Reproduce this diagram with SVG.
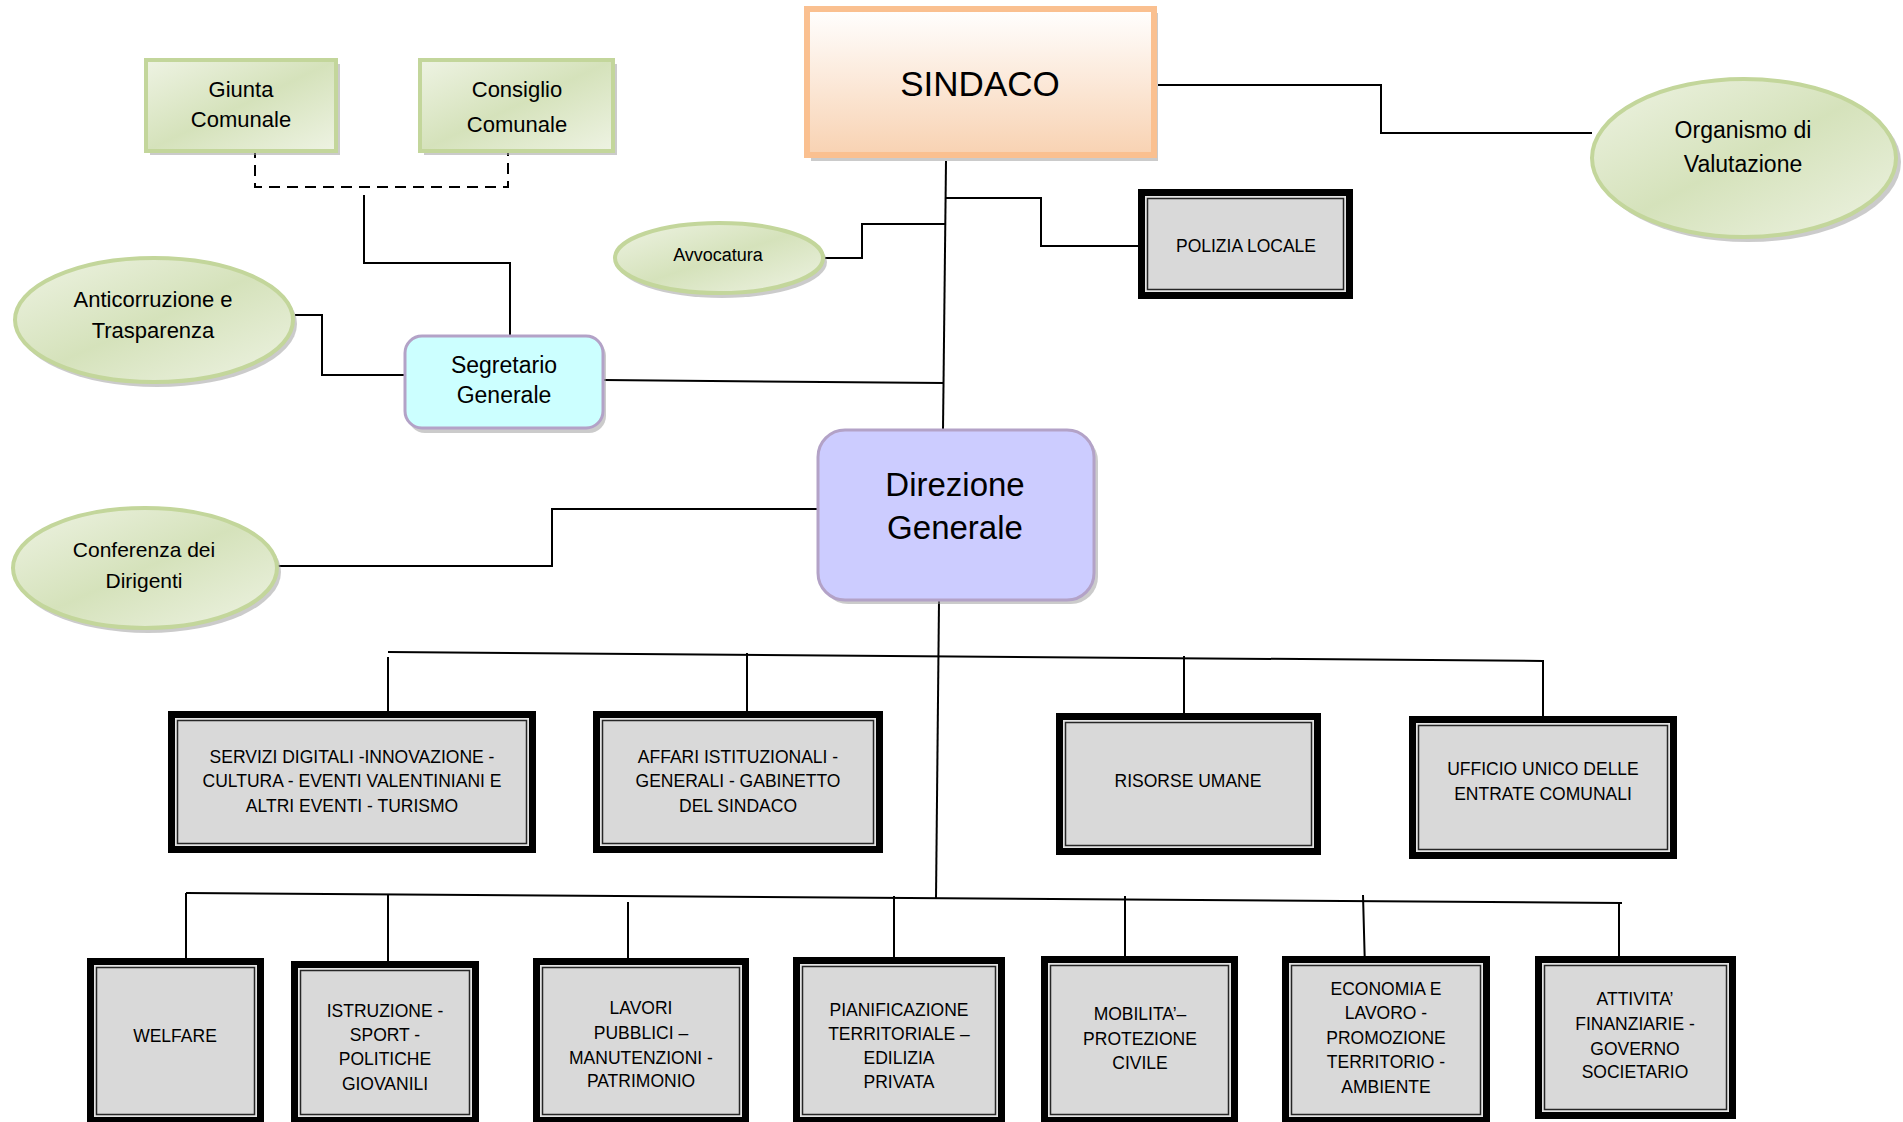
<svg xmlns="http://www.w3.org/2000/svg" width="1903" height="1122" viewBox="0 0 1903 1122">
<defs>
<linearGradient id="gGreen" x1="0" y1="0" x2="1" y2="1">
<stop offset="0" stop-color="#EEF3E3"/>
<stop offset="0.5" stop-color="#D5E2BB"/>
<stop offset="1" stop-color="#EEF3E3"/>
</linearGradient>
<linearGradient id="gOrange" x1="0" y1="0" x2="0" y2="1">
<stop offset="0" stop-color="#FFFFFF"/>
<stop offset="1" stop-color="#F8D2B2"/>
</linearGradient>
<style>
.sh{fill:#A0A0A0;opacity:.55}
.gr{fill:url(#gGreen);stroke:#C3D69B;stroke-width:4}
.or{fill:url(#gOrange);stroke:#FAC090;stroke-width:6}
.cy{fill:#CCFFFF;stroke:#B3A2C7;stroke-width:3}
.pu{fill:#CCCCFF;stroke:#B3A2C7;stroke-width:3}
.bo{fill:#000}
.bg{fill:#E4E4E4}
.bi{fill:#D9D9D9;stroke:#262626;stroke-width:1.5}
.t{font-family:"Liberation Sans",Arial,sans-serif;fill:#000;text-anchor:middle}
.bt{font-size:17.5px}
.ln{fill:none;stroke:#000;stroke-width:2}
.ds{stroke-dasharray:11 7}
</style>
</defs>

<g id="connectors">
<path class="ln ds" d="M255 147 V187 H508 V153"/>
<path class="ln" d="M364 195 V263 H510 V335"/>
<path class="ln" d="M295 315 H322 V375 H405"/>
<path class="ln" d="M604 380 L944 383"/>
<path class="ln" d="M825 258 H862 V224 H945"/>
<path class="ln" d="M946 161 L943 430"/>
<path class="ln" d="M945 198 H1041 V246 H1138"/>
<path class="ln" d="M1158 85 H1381 V133 H1592"/>
<path class="ln" d="M278 566 H552 V509 H818"/>
<path class="ln" d="M939 601 L936 899"/>
<path class="ln" d="M388 652 L1543 661"/>
<path class="ln" d="M388 657 V720 M747 653 V718 M1184 656 V720 M1543 660 V723"/>
<path class="ln" d="M186 893 L1622 903"/>
<path class="ln" d="M186 893 V964 M388 895 V961 M628 902 V966 M894 896 V957 M1125 896 V956 M1363 895 L1365 969 M1619 902 V965"/>
</g>

<g id="giunta">
<rect class="sh" x="150" y="64" width="190" height="91"/>
<rect class="gr" x="146" y="60" width="190" height="91"/>
<text class="t" x="241" y="97" font-size="22">Giunta</text>
<text class="t" x="241" y="127" font-size="22">Comunale</text>
</g>
<g id="consiglio">
<rect class="sh" x="424" y="64" width="193" height="91"/>
<rect class="gr" x="420" y="60" width="193" height="91"/>
<text class="t" x="517" y="97" font-size="22">Consiglio</text>
<text class="t" x="517" y="132" font-size="22">Comunale</text>
</g>
<g id="sindaco">
<rect class="sh" x="811" y="13" width="347" height="148"/>
<rect class="or" x="807" y="9" width="347" height="146"/>
<text class="t" x="980" y="96" font-size="35">SINDACO</text>
</g>
<g id="organismo">
<ellipse class="sh" cx="1748" cy="162" rx="153" ry="80"/>
<ellipse class="gr" cx="1744" cy="158" rx="152" ry="79"/>
<text class="t" x="1743" y="138" font-size="23">Organismo di</text>
<text class="t" x="1743" y="172" font-size="23">Valutazione</text>
</g>
<g id="avvocatura">
<ellipse class="sh" cx="722" cy="262" rx="105" ry="36"/>
<ellipse class="gr" cx="719" cy="258" rx="104" ry="35"/>
<text class="t" x="718" y="261" font-size="18">Avvocatura</text>
</g>
<g id="polizia">
<rect class="bo" x="1138" y="189" width="215" height="110"/>
<rect class="bg" x="1145" y="196" width="201" height="96"/>
<rect class="bi" x="1147.5" y="198.5" width="196" height="91"/>
<text class="t bt" x="1246" y="252">POLIZIA LOCALE</text>
</g>
<g id="anticorruzione">
<ellipse class="sh" cx="157" cy="324" rx="140" ry="63"/>
<ellipse class="gr" cx="154" cy="320" rx="139" ry="62"/>
<text class="t" x="153" y="307" font-size="22">Anticorruzione e</text>
<text class="t" x="153" y="338" font-size="22">Trasparenza</text>
</g>
<g id="segretario">
<rect class="sh" x="408" y="339" width="198" height="94" rx="17"/>
<rect class="cy" x="405" y="336" width="198" height="92" rx="17"/>
<text class="t" x="504" y="373" font-size="23">Segretario</text>
<text class="t" x="504" y="403" font-size="23">Generale</text>
</g>
<g id="direzione">
<rect class="sh" x="821" y="434" width="277" height="170" rx="27"/>
<rect class="pu" x="818" y="430" width="276" height="170" rx="27"/>
<text class="t" x="955" y="496" font-size="33">Direzione</text>
<text class="t" x="955" y="539" font-size="33">Generale</text>
</g>
<g id="conferenza">
<ellipse class="sh" cx="148" cy="572" rx="133" ry="61"/>
<ellipse class="gr" cx="145" cy="568" rx="132" ry="60"/>
<text class="t" x="144" y="557" font-size="21">Conferenza dei</text>
<text class="t" x="144" y="588" font-size="21">Dirigenti</text>
</g>

<g id="servizi">
<rect class="bo" x="168" y="711" width="368" height="142"/>
<rect class="bg" x="175" y="718" width="354" height="128"/>
<rect class="bi" x="177.5" y="720.5" width="349" height="123"/>
<text class="t bt" x="352" y="763">SERVIZI DIGITALI -INNOVAZIONE -</text>
<text class="t bt" x="352" y="787">CULTURA - EVENTI VALENTINIANI E</text>
<text class="t bt" x="352" y="812">ALTRI EVENTI - TURISMO</text>
</g>
<g id="affari">
<rect class="bo" x="593" y="711" width="290" height="142"/>
<rect class="bg" x="600" y="718" width="276" height="128"/>
<rect class="bi" x="602.5" y="720.5" width="271" height="123"/>
<text class="t bt" x="738" y="763">AFFARI ISTITUZIONALI -</text>
<text class="t bt" x="738" y="787">GENERALI - GABINETTO</text>
<text class="t bt" x="738" y="812">DEL SINDACO</text>
</g>
<g id="risorse">
<rect class="bo" x="1056" y="713" width="265" height="142"/>
<rect class="bg" x="1063" y="720" width="251" height="128"/>
<rect class="bi" x="1065.5" y="722.5" width="246" height="123"/>
<text class="t bt" x="1188" y="787">RISORSE UMANE</text>
</g>
<g id="ufficio">
<rect class="bo" x="1409" y="716" width="268" height="143"/>
<rect class="bg" x="1416" y="723" width="254" height="129"/>
<rect class="bi" x="1418.5" y="725.5" width="249" height="124"/>
<text class="t bt" x="1543" y="775">UFFICIO UNICO DELLE</text>
<text class="t bt" x="1543" y="800">ENTRATE COMUNALI</text>
</g>

<g id="welfare">
<rect class="bo" x="87" y="958" width="177" height="166"/>
<rect class="bg" x="94" y="965" width="163" height="152"/>
<rect class="bi" x="96.5" y="967.5" width="158" height="147"/>
<text class="t bt" x="175" y="1042">WELFARE</text>
</g>
<g id="istruzione">
<rect class="bo" x="291" y="961" width="188" height="163"/>
<rect class="bg" x="298" y="968" width="174" height="149"/>
<rect class="bi" x="300.5" y="970.5" width="169" height="144"/>
<text class="t bt" x="385" y="1017">ISTRUZIONE -</text>
<text class="t bt" x="385" y="1041">SPORT -</text>
<text class="t bt" x="385" y="1065">POLITICHE</text>
<text class="t bt" x="385" y="1090">GIOVANILI</text>
</g>
<g id="lavori">
<rect class="bo" x="533" y="958" width="216" height="166"/>
<rect class="bg" x="540" y="965" width="202" height="152"/>
<rect class="bi" x="542.5" y="967.5" width="197" height="147"/>
<text class="t bt" x="641" y="1014">LAVORI</text>
<text class="t bt" x="641" y="1039">PUBBLICI –</text>
<text class="t bt" x="641" y="1064">MANUTENZIONI -</text>
<text class="t bt" x="641" y="1087">PATRIMONIO</text>
</g>
<g id="pianificazione">
<rect class="bo" x="793" y="957" width="212" height="167"/>
<rect class="bg" x="800" y="964" width="198" height="153"/>
<rect class="bi" x="802.5" y="966.5" width="193" height="148"/>
<text class="t bt" x="899" y="1016">PIANIFICAZIONE</text>
<text class="t bt" x="899" y="1040">TERRITORIALE –</text>
<text class="t bt" x="899" y="1064">EDILIZIA</text>
<text class="t bt" x="899" y="1088">PRIVATA</text>
</g>
<g id="mobilita">
<rect class="bo" x="1041" y="956" width="197" height="168"/>
<rect class="bg" x="1048" y="963" width="183" height="154"/>
<rect class="bi" x="1050.5" y="965.5" width="178" height="149"/>
<text class="t bt" x="1140" y="1020">MOBILITA’–</text>
<text class="t bt" x="1140" y="1045">PROTEZIONE</text>
<text class="t bt" x="1140" y="1069">CIVILE</text>
</g>
<g id="economia">
<rect class="bo" x="1282" y="956" width="208" height="168"/>
<rect class="bg" x="1289" y="963" width="194" height="154"/>
<rect class="bi" x="1291.5" y="965.5" width="189" height="149"/>
<text class="t bt" x="1386" y="995">ECONOMIA E</text>
<text class="t bt" x="1386" y="1019">LAVORO -</text>
<text class="t bt" x="1386" y="1044">PROMOZIONE</text>
<text class="t bt" x="1386" y="1068">TERRITORIO -</text>
<text class="t bt" x="1386" y="1093">AMBIENTE</text>
</g>
<g id="attivita">
<rect class="bo" x="1535" y="956" width="201" height="163"/>
<rect class="bg" x="1542" y="963" width="187" height="149"/>
<rect class="bi" x="1544.5" y="965.5" width="182" height="144"/>
<text class="t bt" x="1635" y="1005">ATTIVITA’</text>
<text class="t bt" x="1635" y="1030">FINANZIARIE -</text>
<text class="t bt" x="1635" y="1055">GOVERNO</text>
<text class="t bt" x="1635" y="1078">SOCIETARIO</text>
</g>
</svg>
